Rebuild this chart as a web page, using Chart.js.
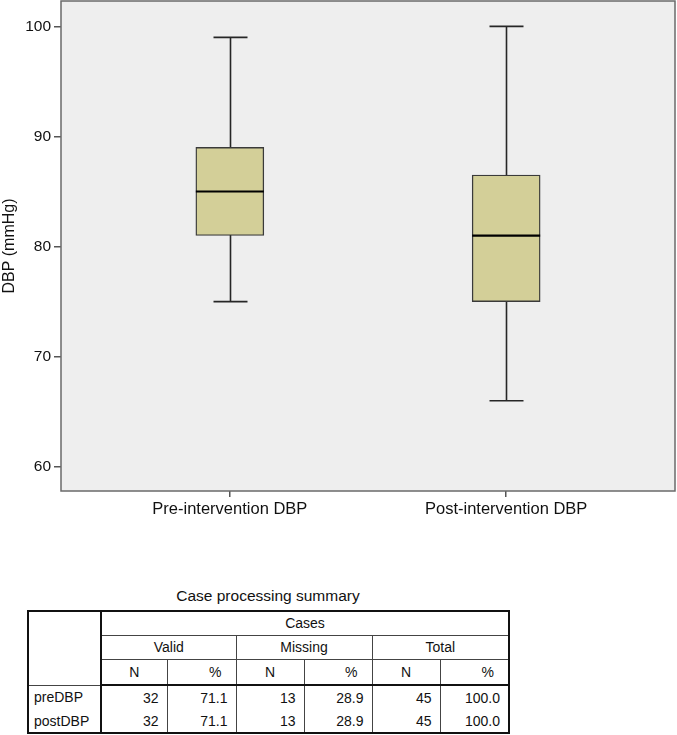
<!DOCTYPE html>
<html>
<head>
<meta charset="utf-8">
<script src="https://cdn.jsdelivr.net/npm/chart.js@4.4.1/dist/chart.umd.min.js"></script>
<style>
  html, body { margin: 0; padding: 0; background: #fff; }
  body { width: 677px; height: 735px; position: relative; overflow: hidden; font-family: "Liberation Sans", Arial, sans-serif; color: #111; }
  #wrap { position: absolute; left: 0; top: 0; width: 677px; height: 535px; }
  #title { position: absolute; left: 27px; width: 482px; top: 587px; text-align: center; font-size: 15.5px; }
  table { position: absolute; left: 27px; top: 610px; border-collapse: collapse; font-size: 14px; border: 2px solid #111; table-layout: fixed; }
  td { border: 1px solid #444; padding: 0; line-height: 16px; }
  td.c { text-align: center; }
  td.r { text-align: right; padding-right: 8px; }
  td.p { text-align: right; padding-right: 14px; }
  td.l { text-align: left; padding-left: 5px; }
  tr.body td { border-top: none; border-bottom: none; height: 23px; }
  tr.last td { border-bottom: 2px solid #111; }
  td.stub { border-right: 2px solid #111; }
  tr.hdr3 td { border-bottom: 2px solid #111; }
</style>
</head>
<body>
<div id="wrap"><canvas id="chart" width="677" height="535"></canvas></div>
<div id="title">Case processing summary</div>
<table id="cases"></table>
<script>
// box plot summary values (mmHg)
const categories = ['Pre-intervention DBP', 'Post-intervention DBP'];
const whiskerMin = [75, 66];
const q1 = [81, 75];
const median = [85, 81];
const q3 = [89, 86.5];
const whiskerMax = [99, 100];
const yTicks = [60, 70, 80, 90, 100];

// case processing summary
const rowNames = ['preDBP', 'postDBP'];
const validN = [32, 32];
const validPct = ['71.1', '71.1'];
const missingN = [13, 13];
const missingPct = ['28.9', '28.9'];
const totalN = [45, 45];
const totalPct = ['100.0', '100.0'];

const BOX_W = 68;

const frameBg = {
    id: 'frameBg',
    beforeDraw(chart) {
        const { ctx, chartArea: a } = chart;
        ctx.save();
        ctx.fillStyle = '#eeeeee';
        ctx.fillRect(a.left, a.top, a.right - a.left, a.bottom - a.top);
        ctx.restore();
    },
    afterDraw(chart) {
        const { ctx, chartArea: a } = chart;
        ctx.save();
        ctx.strokeStyle = '#6a6a6a';
        ctx.lineWidth = 1.5;
        ctx.strokeRect(a.left, a.top, a.right - a.left, a.bottom - a.top);
        ctx.restore();
    }
};

const boxParts = {
    id: 'boxParts',
    beforeDatasetsDraw(chart) {
        // whiskers go under the boxes
        const { ctx, scales: { x, y } } = chart;
        ctx.save();
        ctx.strokeStyle = '#262626';
        ctx.lineWidth = 1.6;
        categories.forEach((c, i) => {
            const cx = Math.round(x.getPixelForValue(i + 1)) + 0.5;
            const half = BOX_W / 4;
            ctx.beginPath();
            ctx.moveTo(cx, y.getPixelForValue(whiskerMax[i]));
            ctx.lineTo(cx, y.getPixelForValue(whiskerMin[i]));
            ctx.moveTo(cx - half, y.getPixelForValue(whiskerMax[i]));
            ctx.lineTo(cx + half, y.getPixelForValue(whiskerMax[i]));
            ctx.moveTo(cx - half, y.getPixelForValue(whiskerMin[i]));
            ctx.lineTo(cx + half, y.getPixelForValue(whiskerMin[i]));
            ctx.stroke();
        });
        ctx.restore();
    },
    afterDatasetsDraw(chart) {
        const { ctx, scales: { x, y } } = chart;
        ctx.save();
        ctx.strokeStyle = '#000';
        ctx.lineWidth = 2.2;
        categories.forEach((c, i) => {
            const cx = x.getPixelForValue(i + 1);
            const my = y.getPixelForValue(median[i]);
            ctx.beginPath();
            ctx.moveTo(cx - BOX_W / 2, my);
            ctx.lineTo(cx + BOX_W / 2, my);
            ctx.stroke();
        });
        ctx.restore();
    }
};

new Chart(document.getElementById('chart'), {
    type: 'bar',
    data: {
        datasets: [{
            data: categories.map((c, i) => ({ x: i + 1, y: [q1[i], q3[i]] })),
            backgroundColor: '#d3cf98',
            borderColor: '#3a3a3a',
            borderWidth: 1.4,
            borderSkipped: false,
            barThickness: BOX_W
        }]
    },
    options: {
        responsive: false,
        animation: false,
        layout: { padding: { top: 1, right: 2, left: 0, bottom: 0 } },
        plugins: { legend: { display: false }, tooltip: { enabled: false } },
        scales: {
            x: {
                type: 'linear',
                offset: false,
                min: 0.389,
                max: 2.611,
                afterBuildTicks: s => { s.ticks = categories.map((c, i) => ({ value: i + 1 })); },
                afterFit: s => { s.height = 44; s.paddingLeft = 0; s.paddingRight = 0; },
                ticks: {
                    callback: v => categories[v - 1],
                    color: '#111',
                    font: { family: 'Liberation Sans', size: 16.5 },
                    padding: 3,
                    maxRotation: 0,
                    autoSkip: false
                },
                grid: { offset: false, drawOnChartArea: false, tickLength: 6, color: '#555', lineWidth: 1.5 },
                border: { display: false }
            },
            y: {
                min: 57.8,
                max: 102.3,
                afterBuildTicks: s => { s.ticks = yTicks.map(v => ({ value: v })); },
                afterFit: s => { s.width = 61; s.paddingTop = 0; s.paddingBottom = 0; },
                ticks: {
                    color: '#111',
                    font: { family: 'Liberation Sans', size: 15.5 },
                    padding: 3
                },
                grid: { drawOnChartArea: false, tickLength: 7, color: '#555', lineWidth: 1.5 },
                border: { display: false },
                title: {
                    display: true,
                    text: 'DBP (mmHg)',
                    color: '#111',
                    font: { family: 'Liberation Sans', size: 16 },
                    padding: 0
                }
            }
        }
    },
    plugins: [frameBg, boxParts]
});

// table
const colW = [73, 66, 69, 68, 68, 68, 69];
const tbl = document.getElementById('cases');
let html = '<colgroup>' + colW.map(w => `<col style="width:${w}px">`).join('') + '</colgroup>';
html += '<tr style="height:24px"><td class="stub" rowspan="3"></td><td class="c" colspan="6">Cases</td></tr>';
html += '<tr style="height:24px"><td class="c" colspan="2">Valid</td><td class="c" colspan="2">Missing</td><td class="c" colspan="2">Total</td></tr>';
html += '<tr class="hdr3" style="height:26px">' + ['N', '%', 'N', '%', 'N', '%'].map((h, k) => `<td class="${k % 2 ? 'p' : 'c'}">${h}</td>`).join('') + '</tr>';
rowNames.forEach((r, i) => {
    html += `<tr class="body${i === rowNames.length - 1 ? ' last' : ''}"><td class="l stub">${r}</td>` +
        [validN[i], validPct[i], missingN[i], missingPct[i], totalN[i], totalPct[i]].map(v => `<td class="r">${v}</td>`).join('') + '</tr>';
});
tbl.innerHTML = html;
</script>
</body>
</html>
